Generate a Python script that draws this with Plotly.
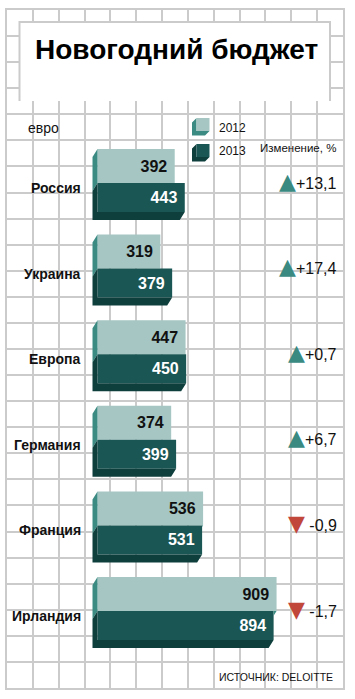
import plotly.graph_objects as go

# ---------------- data ----------------
countries = ["Россия", "Украина", "Европа", "Германия", "Франция", "Ирландия"]
budget_2012 = [392, 319, 447, 374, 536, 909]
budget_2013 = [443, 379, 450, 399, 531, 894]
change_pct = [13.1, 17.4, 0.7, 6.7, -0.9, -1.7]
series_names = ["2012", "2013"]

title_text = "Новогодний бюджет"
unit_text = "евро"
change_title = "Изменение, %"
source_text = "ИСТОЧНИК: DELOITTE"

# ---------------- styling / layout constants (pixels) ----------------
W, H = 355, 699
GX0, GX1, GY0, GY1 = 7, 343, 10, 688          # grid area
ZERO_PX, PX_PER_EUR = 97.5, 0.197             # x scale
ROW0_PX, ROW_PX = 183.0, 85.6                 # row reference (light/dark boundary)
H_LIGHT_PX, H_DARK_PX = 34, 29
DEPTH_X_PX, DEPTH_Y_PX = 5, 8
CELL_X = (GX1 - GX0) / 13
CELL_Y = (GY1 - GY0) / 26

LIGHT_FRONT = "#a5c6c3"
LIGHT_SIDE = "#3c8b83"
DARK_FRONT = "#1a5654"
DARK_SIDE = "#0e3f3d"
UP_COL = "#3b8a82"
DOWN_COL = "#c1473b"
GRID = "#cbcbcb"

SANS = "Liberation Sans, Arial, sans-serif"


def xd(px):
    return (px - ZERO_PX) / PX_PER_EUR


def yd(py):
    return (py - ROW0_PX) / ROW_PX


def xp(px):
    return (px - GX0) / (GX1 - GX0)


def yp(py):
    return 1 - (py - GY0) / (GY1 - GY0)


H1 = H_LIGHT_PX / ROW_PX
H2 = H_DARK_PX / ROW_PX
DX = DEPTH_X_PX / PX_PER_EUR
DY = DEPTH_Y_PX / ROW_PX

idx = list(range(len(countries)))

fig = go.Figure()

# front faces
fig.add_trace(go.Bar(
    y=idx, x=budget_2012, base=0, orientation="h", offset=-H1, width=H1,
    marker=dict(color=LIGHT_FRONT, line=dict(width=0)), name=series_names[0],
    texttemplate="<b>%{x}</b>\u00a0", textposition="inside", insidetextanchor="end",
    textangle=0, constraintext="none",
    textfont=dict(family=SANS, size=16, color="#111111"), hoverinfo="skip"))
fig.add_trace(go.Bar(
    y=idx, x=budget_2013, base=0, orientation="h", offset=0, width=H2,
    marker=dict(color=DARK_FRONT, line=dict(width=0)), name=series_names[1],
    texttemplate="<b>%{x}</b>\u00a0", textposition="inside", insidetextanchor="end",
    textangle=0, constraintext="none",
    textfont=dict(family=SANS, size=16, color="#ffffff"), hoverinfo="skip"))

# 3D side faces (computed from the data values)
lx, ly = [], []
for i in idx:
    lx += [0, -DX, -DX, 0, None]
    ly += [i - H1, i - H1 + DY, i + DY, i, None]
    a, b = budget_2012[i], budget_2013[i]
    if a > b:
        if a - DX > b:
            lx += [b, a, a - DX, b, None]
            ly += [i, i, i + DY, i + DY, None]
        else:
            lx += [b, a, b, None]
            ly += [i, i, i + (a - b) / DX * DY, None]
fig.add_trace(go.Scatter(x=lx, y=ly, mode="lines", fill="toself", fillcolor=LIGHT_SIDE,
                         line=dict(width=0), hoverinfo="skip"))

dx_, dy_ = [], []
for i in idx:
    v = budget_2013[i]
    dx_ += [0, -DX, -DX, v - DX, v, 0, None]
    dy_ += [i, i + DY, i + H2 + DY, i + H2 + DY, i + H2, i + H2, None]
fig.add_trace(go.Scatter(x=dx_, y=dy_, mode="lines", fill="toself", fillcolor=DARK_SIDE,
                         line=dict(width=0), hoverinfo="skip"))

annotations = []
# country labels
for i, c in enumerate(countries):
    annotations.append(dict(x=xp(83), xref="paper", y=i + 5 / ROW_PX, yref="y", text=f"<b>{c}</b>",
                            xanchor="right", yanchor="middle", showarrow=False,
                            font=dict(family=SANS, size=14, color="#111111")))
# change labels
for i, ch in enumerate(change_pct):
    s = f"{ch:+.1f}".replace(".", ",")
    if ch >= 0:
        tri = f'<span style="font-family:DejaVu Sans;color:{UP_COL};font-size:22px">▲</span>{s}'
    else:
        tri = f'<span style="font-family:DejaVu Sans;color:{DOWN_COL};font-size:22px">▼</span> {s}'
    annotations.append(dict(x=xp(339), xref="paper", y=i - 2 / ROW_PX, yref="y", text=tri,
                            xanchor="right", yanchor="middle", showarrow=False,
                            font=dict(family=SANS, size=16, color="#111111")))

annotations += [
    dict(x=xp(176), y=yp(50), xref="paper", yref="paper", text=f"<b>{title_text}</b>",
         showarrow=False, xanchor="center", yanchor="middle",
         font=dict(family=SANS, size=28, color="#000000")),
    dict(x=xp(26), y=yp(128), xref="paper", yref="paper", text=unit_text, showarrow=False,
         xanchor="left", yanchor="middle", font=dict(family=SANS, size=14, color="#111111")),
    dict(x=xp(217), y=yp(127.5), xref="paper", yref="paper", text=series_names[0], showarrow=False,
         xanchor="left", yanchor="middle", font=dict(family=SANS, size=12, color="#111111")),
    dict(x=xp(217), y=yp(150.5), xref="paper", yref="paper", text=series_names[1], showarrow=False,
         xanchor="left", yanchor="middle", font=dict(family=SANS, size=12, color="#111111")),
    dict(x=xp(258), y=yp(148.5), xref="paper", yref="paper", text=change_title, showarrow=False,
         xanchor="left", yanchor="middle", font=dict(family=SANS, size=11.5, color="#111111")),
    dict(x=xp(335), y=yp(677), xref="paper", yref="paper", text=source_text, showarrow=False,
         xanchor="right", yanchor="middle", font=dict(family=SANS, size=10.5, color="#111111")),
]

shapes = []
# title box
shapes.append(dict(type="rect", xref="paper", yref="paper", x0=xp(19.5), x1=xp(330), y0=yp(101), y1=yp(22),
                   fillcolor="white", line=dict(width=0), layer="above"))
shapes.append(dict(type="path", xref="paper", yref="paper", layer="above",
                   path=f"M {xp(19.5)},{yp(101)} L {xp(19.5)},{yp(22)} L {xp(330)},{yp(22)} L {xp(330)},{yp(101)}",
                   line=dict(color=GRID, width=2)))


# legend cubes
def cube(fx0, fy0, size, d, front, side):
    fx1, fy1 = fx0 + size, fy0 + size
    pts = [(fx0, fy0), (fx0 - d, fy0 + d), (fx0 - d, fy1 + d), (fx1 - d, fy1 + d), (fx1, fy1), (fx0, fy1)]
    path = "M " + " L ".join(f"{xp(a)},{yp(b)}" for a, b in pts) + " Z"
    return [dict(type="path", xref="paper", yref="paper", path=path, fillcolor=side,
                 line=dict(width=0), layer="above"),
            dict(type="rect", xref="paper", yref="paper", x0=xp(fx0), x1=xp(fx1), y0=yp(fy1), y1=yp(fy0),
                 fillcolor=front, line=dict(width=0), layer="above")]


shapes += cube(196.5, 118, 13, 4.5, LIGHT_FRONT, LIGHT_SIDE)
shapes += cube(196.5, 144, 13, 4.5, DARK_FRONT, DARK_SIDE)

fig.update_layout(
    width=W, height=H,
    margin=dict(l=GX0, r=W - GX1, t=GY0, b=H - GY1, pad=0),
    paper_bgcolor="white", plot_bgcolor="white",
    showlegend=False, barmode="overlay",
    annotations=annotations, shapes=shapes,
    xaxis=dict(range=[xd(GX0), xd(GX1)], tick0=xd(GX0), dtick=CELL_X / PX_PER_EUR,
               showgrid=True, gridcolor=GRID, gridwidth=2, zeroline=False,
               showticklabels=False, ticks="", showline=True, mirror=True,
               linecolor=GRID, linewidth=2, fixedrange=True),
    yaxis=dict(range=[yd(GY1), yd(GY0)], tick0=yd(GY0), dtick=CELL_Y / ROW_PX,
               showgrid=True, gridcolor=GRID, gridwidth=2, zeroline=False,
               showticklabels=False, ticks="", showline=True, mirror=True,
               linecolor=GRID, linewidth=2, fixedrange=True),
)

fig.write_html("out.html", config={"displayModeBar": False},
               post_script="document.body.style.margin='0';document.body.style.padding='0';")
